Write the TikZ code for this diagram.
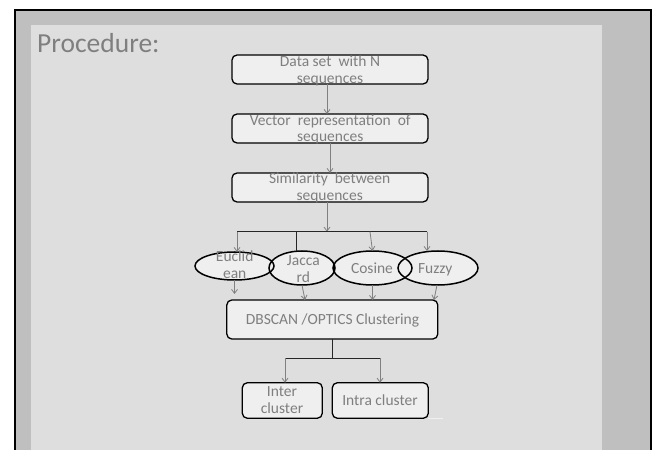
\documentclass[tikz,border=0pt]{standalone}
\usepackage{fontspec}
\setmainfont{Carlito}
\usetikzlibrary{arrows.meta,shapes.geometric}
\definecolor{outergray}{HTML}{BFBFBF}
\definecolor{panelgray}{HTML}{DEDEDE}
\definecolor{boxfill}{HTML}{EFEFEF}
\definecolor{txtgray}{HTML}{7F7F7F}
\definecolor{arrgray}{HTML}{808080}
\newcommand{\mytwolines}[2]{\begin{tabular}[t]{@{}c@{}}#1\\#2\end{tabular}}
\begin{document}
\begin{tikzpicture}[x=1bp,y=-1bp,
  boxnode/.style={draw=black,line width=1.3bp,fill=boxfill,rounded corners=5bp,rectangle,inner sep=0pt,outer sep=0pt},
  ellfill/.style={ellipse,fill=boxfill,inner sep=0pt,outer sep=0pt},
  ellline/.style={draw=black,line width=1.5bp},
  lbl/.style={text=txtgray,font=\fontsize{15.5bp}{16.7bp}\selectfont,inner sep=0pt,anchor=base},
  arr/.style={draw=arrgray,line width=0.8bp,-{Straight Barb[length=4bp,width=6bp]}},
  bus/.style={draw=black!85,line width=1bp}]
\useasboundingbox (0,0) rectangle (659,450);
\fill[white] (0,0) rectangle (659,450);
% slide frame
\fill[outergray] (15,10) rectangle (651,451);
\draw[black,line width=1.8bp] (15,451) -- (15,10) -- (651,10) -- (651,451);
\fill[panelgray] (31,25) rectangle (602,451);
\node[text=txtgray,font=\fontsize{27.5bp}{31bp}\selectfont,anchor=base west,inner sep=0pt] (title) at (37,53) {Procedure:};

% boxes
\node[boxnode,minimum width=196bp,minimum height=29bp] (b1) at (330,69.5) {};
\node[boxnode,minimum width=196bp,minimum height=29bp] (b2) at (330,128.5) {};
\node[boxnode,minimum width=196bp,minimum height=29bp] (b3) at (330,187.5) {};
\node[boxnode,minimum width=211bp,minimum height=39bp] (db) at (332.3,319.5) {};
\node[boxnode,minimum width=80bp,minimum height=35.5bp] (inter) at (282.3,400.5) {};
\node[boxnode,minimum width=96bp,minimum height=35.5bp] (intra) at (380.3,400.5) {};

% ellipses: fills first, then outlines
\node[ellfill,minimum width=79bp,minimum height=28bp] (eu) at (234.5,266) {};
\node[ellfill,minimum width=66bp,minimum height=34bp] (ja) at (302,268) {};
\node[ellfill,minimum width=79bp,minimum height=34bp] (co) at (372.5,268) {};
\node[ellfill,minimum width=80bp,minimum height=34bp] (fu) at (438,268) {};
\foreach \n/\rx/\ry in {eu/39.5/14,ja/33/17,co/39.5/17,fu/40/17}
  \draw[ellline] (\n.center) ellipse [x radius=\rx bp, y radius=\ry bp];

% labels
\node[lbl] (b1t) at (330,66.7) {\mytwolines{Data set~ with N}{sequences}};
\node[lbl] (b2t) at (330.3,125.3) {\mytwolines{Vector~ representation~ of}{sequences}};
\node[lbl] (b3t) at (329.7,184) {\mytwolines{Similarity~ between}{sequences}};
\node[lbl] (dbt) at (332.5,324.3) {DBSCAN /OPTICS Clustering};
\node[lbl] (eut) at (234.7,261.7) {\mytwolines{Euclid}{ean}};
\node[lbl] (jat) at (303.3,265.7) {\mytwolines{Jacca}{rd}};
\node[lbl] (cot) at (372,273.3) {Cosine};
\node[lbl] (fut) at (435.3,273.3) {Fuzzy};
\node[lbl] (intert) at (282,396.7) {\mytwolines{Inter}{cluster}};
\node[lbl] (intrat) at (380,405.7) {Intra cluster};

% connectors top
\draw[arr] ([xshift=-3bp]b1.south) -- ([xshift=-3bp]b2.north);
\draw[arr] (b2.south) -- (b3.north);
\coordinate (busL) at (237,231.7);
\coordinate (busR) at (427,231.7);
\coordinate (bja) at (296,231.7);
\coordinate (bco) at (370,231.7);
\draw[arr] ([xshift=-3bp]b3.south) -- ([xshift=-3bp]b3.south |- busL);
\draw[bus] (busL) -- (busR);
\draw[arr] (busL) -- (busL |- eu.north);
\draw[bus] (bja) -- (bja |- ja.north);
\draw[arr] (bco) -- (co.north);
\draw[arr] (busR) -- (busR |- fu.north);

% connectors below ellipses
\coordinate (eue) at (234,294);
\coordinate (jae) at (305,300);
\coordinate (fue) at (434,300);
\draw[arr] (eu.south) -- (eu.south |- eue);
\draw[arr] (ja.south) -- (jae);
\draw[arr] (co.south) -- (co.south |- db.north);
\draw[arr] ([xshift=-1bp]fu.south) -- (fue);

% connectors bottom
\coordinate (lb) at (332.3,358.3);
\coordinate (lbL) at (285,358.3);
\coordinate (lbR) at (380,358.3);
\draw[bus] (db.south) -- (lb);
\draw[bus] (lbL) -- (lbR);
\draw[arr] (lbL) -- (lbL |- inter.north);
\draw[arr] (lbR) -- (lbR |- intra.north);

% small white stroke
\draw[white!94!black,line width=1.5bp] (intra.south east) -- ++(15,0);
\end{tikzpicture}
\end{document}
